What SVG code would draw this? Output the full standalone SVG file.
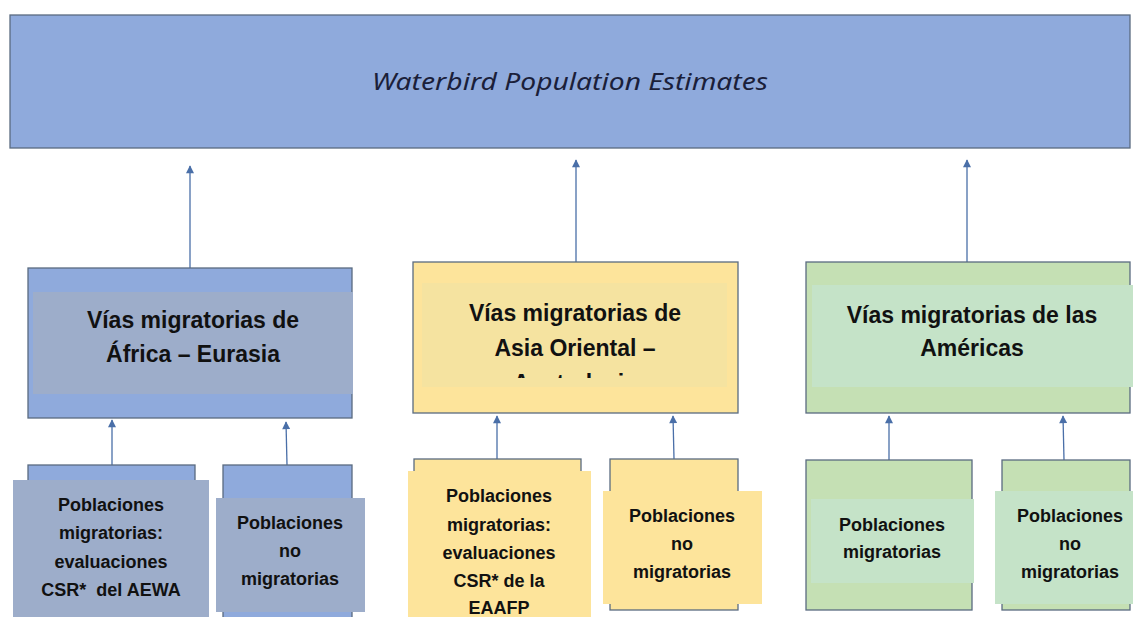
<svg xmlns="http://www.w3.org/2000/svg" width="1133" height="617" viewBox="0 0 1133 617">
<defs>
<style>
.box{stroke:#5a6b80;stroke-width:1.3}
.blue{fill:#8faadc}
.blueIn{fill:#9dadca}
.yel{fill:#fde49b}
.yelIn{fill:#f5e3a0}
.grn{fill:#c5e0b4}
.grnIn{fill:#c5e3c8}
.big{font-family:"Liberation Sans",Arial,sans-serif;font-weight:bold;font-size:23px;fill:#111;text-anchor:middle}
.sm{font-family:"Liberation Sans",Arial,sans-serif;font-weight:bold;font-size:18px;fill:#111;text-anchor:middle}
.title{font-family:"Noto Sans","Liberation Sans",sans-serif;font-style:italic;font-size:24px;fill:#1b1f3a;text-anchor:middle}
.con{stroke:#4a6fa8;stroke-width:1.3;fill:none}
</style>
<marker id="ah" viewBox="0 0 10 10" refX="9" refY="5" markerWidth="9" markerHeight="8" markerUnits="userSpaceOnUse" orient="auto">
<path d="M0,0 L10,5 L0,10 z" fill="#4a6fa8"/>
</marker>
<clipPath id="clipMid"><rect x="422" y="283" width="305" height="95"/></clipPath>
</defs>
<rect width="1133" height="617" fill="#ffffff"/>

<g id="connectors">
<line class="con" x1="190" y1="268" x2="190" y2="166" marker-end="url(#ah)"/>
<line class="con" x1="576" y1="262" x2="576" y2="160" marker-end="url(#ah)"/>
<line class="con" x1="967" y1="262" x2="967" y2="160" marker-end="url(#ah)"/>
<line class="con" x1="112" y1="465" x2="112" y2="420" marker-end="url(#ah)"/>
<line class="con" x1="287" y1="465" x2="286" y2="422" marker-end="url(#ah)"/>
<line class="con" x1="497" y1="459" x2="497" y2="416" marker-end="url(#ah)"/>
<line class="con" x1="674" y1="459" x2="673" y2="416" marker-end="url(#ah)"/>
<line class="con" x1="889" y1="460" x2="889" y2="416" marker-end="url(#ah)"/>
<line class="con" x1="1064" y1="460" x2="1063" y2="416" marker-end="url(#ah)"/>
</g>

<g id="top">
<rect class="box blue" x="10" y="15" width="1120" height="133"/>
<text class="title" x="570" y="90" textLength="396" lengthAdjust="spacingAndGlyphs">Waterbird Population Estimates</text>
</g>

<g id="africa">
<rect class="box blue" x="28" y="268" width="324" height="150"/>
<rect class="blueIn" x="33" y="292" width="320" height="102"/>
<text class="big" x="193" y="328">Vías migratorias de</text>
<text class="big" x="193" y="362">África – Eurasia</text>
</g>

<g id="africa-mig">
<rect class="box blue" x="28" y="465" width="167" height="160"/>
<rect class="blueIn" x="13" y="480" width="196" height="140"/>
<text class="sm" x="111" y="511">Poblaciones</text>
<text class="sm" x="111" y="539">migratorias:</text>
<text class="sm" x="111" y="568">evaluaciones</text>
<text class="sm" x="111" y="596" xml:space="preserve">CSR*  del AEWA</text>
</g>

<g id="africa-nomig">
<rect class="box blue" x="223" y="465" width="129" height="160"/>
<rect class="blueIn" x="216" y="498" width="149" height="114"/>
<text class="sm" x="290" y="529">Poblaciones</text>
<text class="sm" x="290" y="557">no</text>
<text class="sm" x="290" y="585">migratorias</text>
</g>

<g id="asia">
<rect class="box yel" x="413" y="262" width="325" height="151"/>
<rect class="yelIn" x="422" y="283" width="305" height="104"/>
<g clip-path="url(#clipMid)">
<text class="big" x="575" y="321">Vías migratorias de</text>
<text class="big" x="575" y="356">Asia Oriental –</text>
<text class="big" x="575" y="391">Australasia</text>
</g>
</g>

<g id="asia-mig">
<rect class="box yel" x="414" y="459" width="167" height="170"/>
<rect class="yel" x="408" y="471" width="183" height="150"/>
<text class="sm" x="499" y="502">Poblaciones</text>
<text class="sm" x="499" y="531">migratorias:</text>
<text class="sm" x="499" y="559">evaluaciones</text>
<text class="sm" x="499" y="587">CSR* de la</text>
<text class="sm" x="499" y="614">EAAFP</text>
</g>

<g id="asia-nomig">
<rect class="box yel" x="610" y="459" width="128" height="151"/>
<rect class="yel" x="603" y="491" width="159" height="113"/>
<text class="sm" x="682" y="522">Poblaciones</text>
<text class="sm" x="682" y="550">no</text>
<text class="sm" x="682" y="578">migratorias</text>
</g>

<g id="americas">
<rect class="box grn" x="806" y="262" width="324" height="151"/>
<rect class="grnIn" x="812" y="285" width="321" height="102"/>
<text class="big" x="972" y="323">Vías migratorias de las</text>
<text class="big" x="972" y="356">Américas</text>
</g>

<g id="americas-mig">
<rect class="box grn" x="806" y="460" width="166" height="150"/>
<rect class="grnIn" x="811" y="499" width="163" height="84"/>
<text class="sm" x="892" y="531">Poblaciones</text>
<text class="sm" x="892" y="558">migratorias</text>
</g>

<g id="americas-nomig">
<rect class="box grn" x="1002" y="460" width="128" height="150"/>
<rect class="grnIn" x="995" y="491" width="138" height="113"/>
<text class="sm" x="1070" y="522">Poblaciones</text>
<text class="sm" x="1070" y="550">no</text>
<text class="sm" x="1070" y="578">migratorias</text>
</g>
</svg>
